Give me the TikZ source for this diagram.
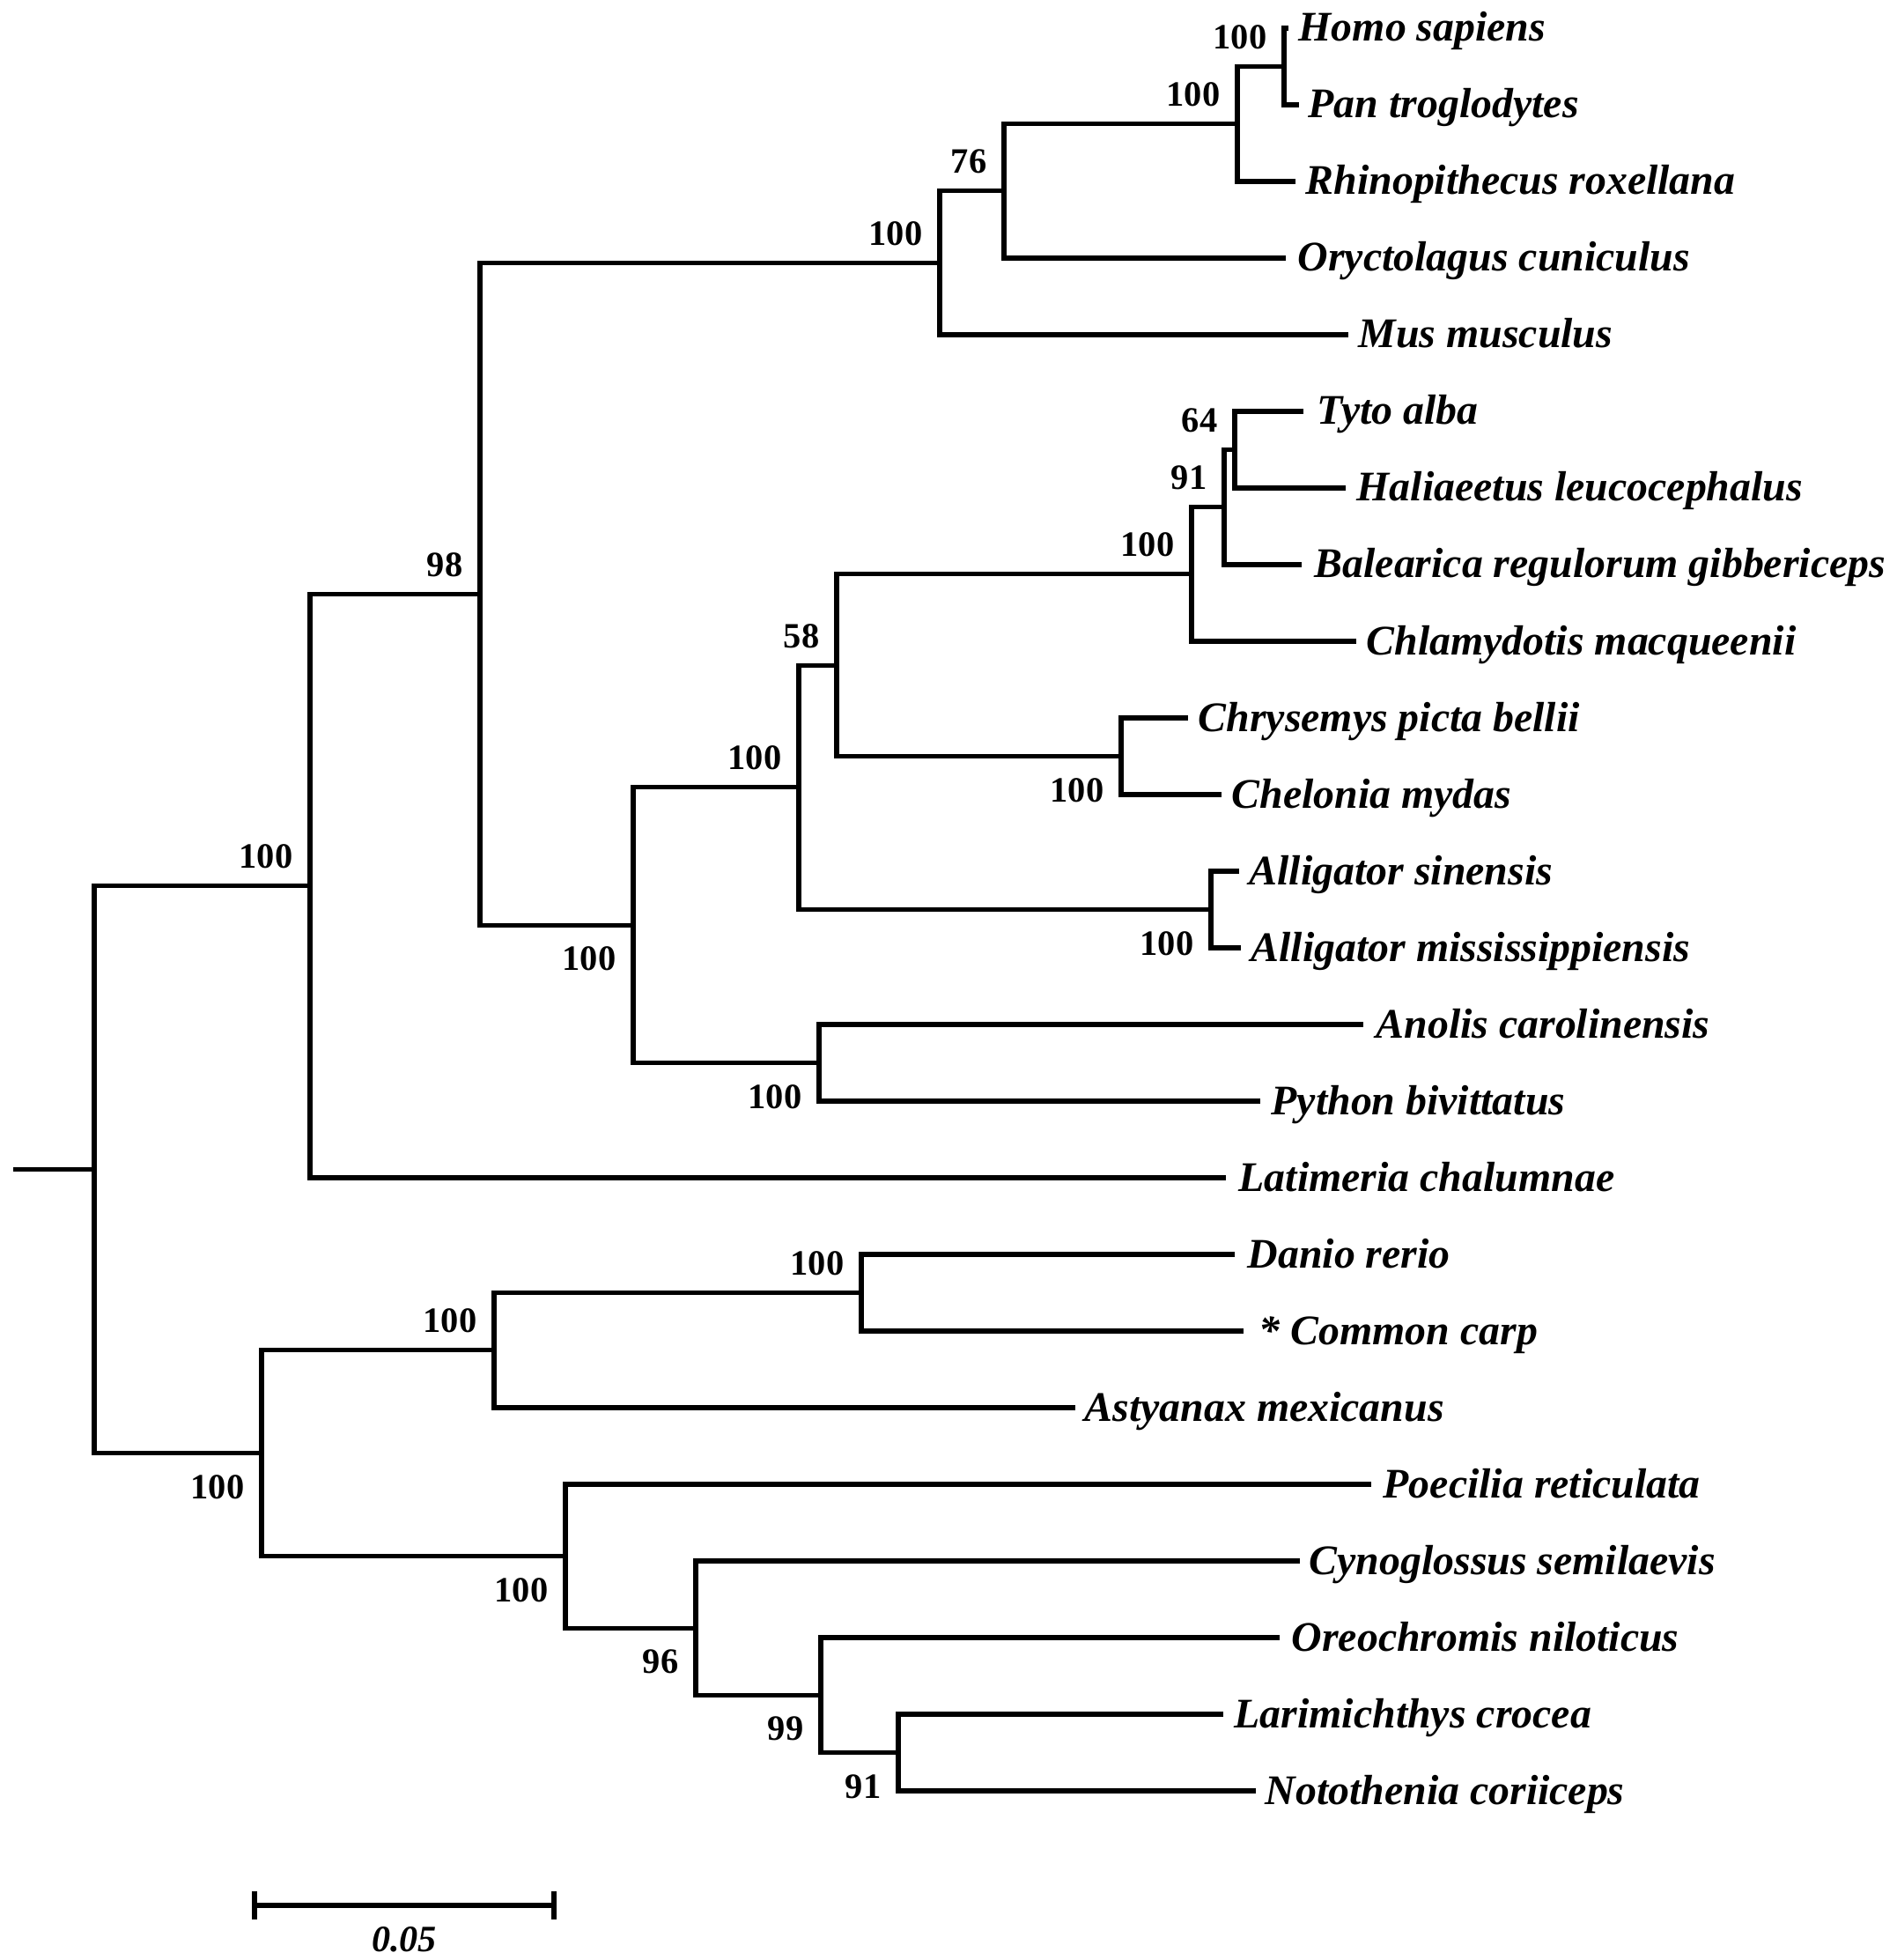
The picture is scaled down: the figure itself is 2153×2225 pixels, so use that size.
\documentclass[tikz,border=0pt]{standalone}
\usepackage{fontspec}
\setmainfont{Liberation Serif}
\usepackage{tikz}
\usetikzlibrary{positioning}

\begin{document}
\begin{tikzpicture}[
		% GLOBAL CFG
		x=0.01cm, y=-0.01cm,
		% Styles
		branch/.style={% For the branches of the tree
			line width=1.45pt,
			line join=miter,
		},
		taxon/.style={% For the species names
			anchor=base west,
			inner sep=0pt,
			font=\fontsize{13.6}{16}\selectfont\bfseries\itshape,
		},
		bsup/.style={% Bootstrap values above a branch
			anchor=south east,
			inner sep=0pt,
			xshift=-0.19cm, yshift=0.19cm,
			font=\fontsize{11.5}{13}\selectfont\bfseries,
		},
		bsdown/.style={% Bootstrap values below a branch
			anchor=north east,
			inner sep=0pt,
			xshift=-0.19cm, yshift=-0.24cm,
			font=\fontsize{11.5}{13}\selectfont\bfseries,
		},
		]
		\useasboundingbox (0,0) rectangle (2153,2225);
		
		% Draw the splits named nd#
		\coordinate (root) at (107,1327.65);
		\coordinate (nd1) at (352,1005.65);
		\coordinate (nd2) at (545,674.3);
		\coordinate (nd3) at (1067,298.44);
		\coordinate (nd4) at (1140,216.88);
		\coordinate (nd5) at (1405,140.75);
		\coordinate (nd6) at (1458,75.5);
		\coordinate (nd7) at (719,1050.17);
		\coordinate (nd8) at (907,893.84);
		\coordinate (nd9) at (950,755.19);
		\coordinate (nd10) at (1353,651.88);
		\coordinate (nd11) at (1390,575.75);
		\coordinate (nd12) at (1402,510.5);
		\coordinate (nd13) at (1273,858.5);
		\coordinate (nd14) at (1375,1032.5);
		\coordinate (nd15) at (930,1206.5);
		\coordinate (nd16) at (297,1649.66);
		\coordinate (nd17) at (561,1532.75);
		\coordinate (nd18) at (978,1467.5);
		\coordinate (nd19) at (642,1766.56);
		\coordinate (nd20) at (790,1848.13);
		\coordinate (nd21) at (932,1924.25);
		\coordinate (nd22) at (1020,1989.5);
		\coordinate (stub) at (15,1327.65);
		
		% Draw the tips named tip# and the species sp#
		\coordinate (tip1) at (1463,32);
		\coordinate (tip2) at (1475,119);
		\coordinate (tip3) at (1471,206);
		\coordinate (tip4) at (1460,293);
		\coordinate (tip5) at (1531,380);
		\coordinate (tip6) at (1480,467);
		\coordinate (tip7) at (1528,554);
		\coordinate (tip8) at (1478,641);
		\coordinate (tip9) at (1540,728);
		\coordinate (tip10) at (1349,815);
		\coordinate (tip11) at (1387,902);
		\coordinate (tip12) at (1407,989);
		\coordinate (tip13) at (1409,1076);
		\coordinate (tip14) at (1548,1163);
		\coordinate (tip15) at (1431,1250);
		\coordinate (tip16) at (1392,1337);
		\coordinate (tip17) at (1402,1424);
		\coordinate (tip18) at (1412,1511);
		\coordinate (tip19) at (1221,1598);
		\coordinate (tip20) at (1557,1685);
		\coordinate (tip21) at (1476,1772);
		\coordinate (tip22) at (1453,1859);
		\coordinate (tip23) at (1389,1946);
		\coordinate (tip24) at (1426,2033);
		
		\node [taxon] (sp1) at (1474,47) {Homo sapiens};
		\node [taxon] (sp2) at (1485,134) {Pan troglodytes};
		\node [taxon] (sp3) at (1482,221) {Rhinopithecus roxellana};
		\node [taxon] (sp4) at (1473,308) {Oryctolagus cuniculus};
		\node [taxon] (sp5) at (1542,395) {Mus musculus};
		\node [taxon] (sp6) at (1495,482) {Tyto alba};
		\node [taxon] (sp7) at (1540,569) {Haliaeetus leucocephalus};
		\node [taxon] (sp8) at (1492,656) {Balearica regulorum gibbericeps};
		\node [taxon] (sp9) at (1551,743) {Chlamydotis macqueenii};
		\node [taxon] (sp10) at (1360,830) {Chrysemys picta bellii};
		\node [taxon] (sp11) at (1398,917) {Chelonia mydas};
		\node [taxon] (sp12) at (1418,1004) {Alligator sinensis};
		\node [taxon] (sp13) at (1420,1091) {Alligator mississippiensis};
		\node [taxon] (sp14) at (1562,1178) {Anolis carolinensis};
		\node [taxon] (sp15) at (1443,1265) {Python bivittatus};
		\node [taxon] (sp16) at (1406,1352) {Latimeria chalumnae};
		\node [taxon] (sp17) at (1416,1439) {Danio rerio};
		\node [taxon] (sp18) at (1429,1526) {* Common carp};
		\node [taxon] (sp19) at (1231,1613) {Astyanax mexicanus};
		\node [taxon] (sp20) at (1570,1700) {Poecilia reticulata};
		\node [taxon] (sp21) at (1486,1787) {Cynoglossus semilaevis};
		\node [taxon] (sp22) at (1466,1874) {Oreochromis niloticus};
		\node [taxon] (sp23) at (1401,1961) {Larimichthys crocea};
		\node [taxon] (sp24) at (1436,2048) {Notothenia coriiceps};
		
		% Bootstrap values named bs#
		\node [bsup] (bs1) at (nd1) {100};
		\node [bsup] (bs2) at (nd2) {98};
		\node [bsup] (bs3) at (nd3) {100};
		\node [bsup] (bs4) at (nd4) {76};
		\node [bsup] (bs5) at (nd5) {100};
		\node [bsup] (bs6) at (nd6) {100};
		\node [bsdown] (bs7) at (nd7) {100};
		\node [bsup] (bs8) at (nd8) {100};
		\node [bsup] (bs9) at (nd9) {58};
		\node [bsup] (bs10) at (nd10) {100};
		\node [bsup] (bs11) at (nd11) {91};
		\node [bsup] (bs12) at (nd12) {64};
		\node [bsdown] (bs13) at (nd13) {100};
		\node [bsdown] (bs14) at (nd14) {100};
		\node [bsdown] (bs15) at (nd15) {100};
		\node [bsdown] (bs16) at (nd16) {100};
		\node [bsup] (bs17) at (nd17) {100};
		\node [bsup] (bs18) at (nd18) {100};
		\node [bsdown] (bs19) at (nd19) {100};
		\node [bsdown] (bs20) at (nd20) {96};
		\node [bsdown] (bs21) at (nd21) {99};
		\node [bsdown] (bs22) at (nd22) {91};
		
		% Start connecting all.
		\draw [branch] (stub) -- (root);
		\draw [branch] (root) |- (nd1);
		\draw [branch] (root) |- (nd16);
		
		% Tetrapods and coelacanth
		\draw [branch] (nd1) |- (nd2);
		\draw [branch] (nd1) |- (tip16);
		\draw [branch] (nd2) |- (nd3);
		\draw [branch] (nd2) |- (nd7);
		\draw [branch] (nd3) |- (nd4);
		\draw [branch] (nd3) |- (tip5);
		\draw [branch] (nd4) |- (nd5);
		\draw [branch] (nd4) |- (tip4);
		\draw [branch] (nd5) |- (nd6);
		\draw [branch] (nd5) |- (tip3);
		\draw [branch] (nd6) |- (tip1);
		\draw [branch] (nd6) |- (tip2);
		\draw [branch] (nd7) |- (nd8);
		\draw [branch] (nd7) |- (nd15);
		\draw [branch] (nd8) |- (nd9);
		\draw [branch] (nd8) |- (nd14);
		\draw [branch] (nd9) |- (nd10);
		\draw [branch] (nd9) |- (nd13);
		\draw [branch] (nd10) |- (nd11);
		\draw [branch] (nd10) |- (tip9);
		\draw [branch] (nd11) |- (nd12);
		\draw [branch] (nd11) |- (tip8);
		\draw [branch] (nd12) |- (tip6);
		\draw [branch] (nd12) |- (tip7);
		\draw [branch] (nd13) |- (tip10);
		\draw [branch] (nd13) |- (tip11);
		\draw [branch] (nd14) |- (tip12);
		\draw [branch] (nd14) |- (tip13);
		\draw [branch] (nd15) |- (tip14);
		\draw [branch] (nd15) |- (tip15);
		
		% Fishes
		\draw [branch] (nd16) |- (nd17);
		\draw [branch] (nd16) |- (nd19);
		\draw [branch] (nd17) |- (nd18);
		\draw [branch] (nd17) |- (tip19);
		\draw [branch] (nd18) |- (tip17);
		\draw [branch] (nd18) |- (tip18);
		\draw [branch] (nd19) |- (tip20);
		\draw [branch] (nd19) |- (nd20);
		\draw [branch] (nd20) |- (tip21);
		\draw [branch] (nd20) |- (nd21);
		\draw [branch] (nd21) |- (tip22);
		\draw [branch] (nd21) |- (nd22);
		\draw [branch] (nd22) |- (tip23);
		\draw [branch] (nd22) |- (tip24);
		
		% Scale bar
		\coordinate (sbl) at (289,2163);
		\coordinate (sbr) at (629,2163);
		\draw [branch] (sbl) -- (sbr);
		\draw [branch] (sbl)++(0,-16) -- ++(0,32);
		\draw [branch] (sbr)++(0,-16) -- ++(0,32);
		\node [inner sep=0pt, anchor=north, font=\fontsize{12}{14}\selectfont\bfseries\itshape] (sblabel) at (459,2187) {0.05};
		
	\end{tikzpicture}
\end{document}
